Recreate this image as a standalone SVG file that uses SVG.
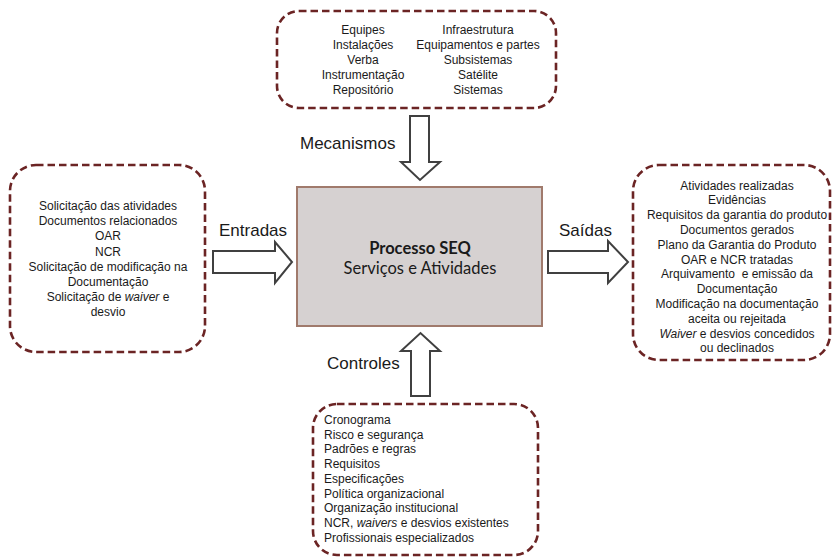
<svg xmlns="http://www.w3.org/2000/svg" width="835" height="559" viewBox="0 0 835 559">
<style>
.dash{fill:#ffffff;stroke:#6b2424;stroke-width:2.6;stroke-dasharray:7.5 4}
.arrow{fill:#ffffff;stroke:#404040;stroke-width:2;stroke-linejoin:miter}
.t{font-family:"Liberation Sans",Arial,sans-serif;font-size:12px;fill:#1a1a1a}
.c{text-anchor:middle}
.lbl{font-family:"Liberation Sans",Arial,sans-serif;font-size:17px;fill:#1a1a1a}
.proc{font-family:Lato,"Open Sans",sans-serif;font-size:16.5px;fill:#1a1a1a;text-anchor:middle}
</style>
<rect width="835" height="559" fill="#ffffff"/>

<g id="mecanismos-box">
<rect class="dash" x="277" y="11" width="279" height="97" rx="22"/>
<g class="t c">
<text x="363" y="34">Equipes</text>
<text x="363" y="49">Instalações</text>
<text x="363" y="64">Verba</text>
<text x="363" y="79">Instrumentação</text>
<text x="363" y="94">Repositório</text>
<text x="478" y="34">Infraestrutura</text>
<text x="478" y="49">Equipamentos e partes</text>
<text x="478" y="64">Subsistemas</text>
<text x="478" y="79">Satélite</text>
<text x="478" y="94">Sistemas</text>
</g>
</g>

<g id="entradas-box">
<rect class="dash" x="10" y="165" width="195" height="187" rx="26"/>
<g class="t c">
<text x="108" y="210">Solicitação das atividades</text>
<text x="108" y="225.2">Documentos relacionados</text>
<text x="108" y="240.4">OAR</text>
<text x="108" y="255.6">NCR</text>
<text x="108" y="270.8">Solicitação de modificação na</text>
<text x="108" y="286">Documentação</text>
<text x="108" y="301.2">Solicitação de <tspan font-style="italic">waiver</tspan> e</text>
<text x="108" y="316.4">desvio</text>
</g>
</g>

<g id="saidas-box">
<rect class="dash" x="633" y="165" width="197" height="195" rx="26"/>
<g class="t c">
<text x="737" y="189.5">Atividades realizadas</text>
<text x="737" y="204.3">Evidências</text>
<text x="737" y="219.1">Requisitos da garantia do produto</text>
<text x="737" y="233.9">Documentos gerados</text>
<text x="737" y="248.7">Plano da Garantia do Produto</text>
<text x="737" y="263.5">OAR e NCR tratadas</text>
<text x="737" y="278.3" xml:space="preserve">Arquivamento  e emissão da</text>
<text x="737" y="293.1">Documentação</text>
<text x="737" y="307.9">Modificação na documentação</text>
<text x="737" y="322.7">aceita ou rejeitada</text>
<text x="737" y="337.5"><tspan font-style="italic">Waiver</tspan> e desvios concedidos</text>
<text x="737" y="352.3">ou declinados</text>
</g>
</g>

<g id="controles-box">
<rect class="dash" x="313" y="404" width="225" height="151" rx="24"/>
<g class="t">
<text x="324" y="424">Cronograma</text>
<text x="324" y="438.7">Risco e segurança</text>
<text x="324" y="453.4">Padrões e regras</text>
<text x="324" y="468.1">Requisitos</text>
<text x="324" y="482.8">Especificações</text>
<text x="324" y="497.5">Política organizacional</text>
<text x="324" y="512.2">Organização institucional</text>
<text x="324" y="526.9">NCR, <tspan font-style="italic">waivers</tspan> e desvios existentes</text>
<text x="324" y="541.6">Profissionais especializados</text>
</g>
</g>

<g id="processo">
<rect x="297" y="187" width="245" height="139" fill="#d6d1d1" stroke="#a07a6c" stroke-width="2"/>
<text class="proc" x="420" y="254" font-weight="bold">Processo SEQ</text>
<text class="proc" x="420" y="274">Serviços e Atividades</text>
</g>

<g id="connectors">
<polygon class="arrow" points="410,116 429,116 429,162 440,162 420,180 401,162 410,162"/>
<polygon class="arrow" points="411,396 430,396 430,351 440,351 420.5,333 401,351 411,351"/>
<polygon class="arrow" points="213,251 275,251 275,242 292,262 275,283 275,273 213,273"/>
<polygon class="arrow" points="548,251 608,251 608,241 628,262 608,283 608,273 548,273"/>
<text class="lbl" x="300" y="149">Mecanismos</text>
<text class="lbl" x="219" y="236">Entradas</text>
<text class="lbl" x="559" y="236">Saídas</text>
<text class="lbl" x="327" y="369">Controles</text>
</g>
</svg>
